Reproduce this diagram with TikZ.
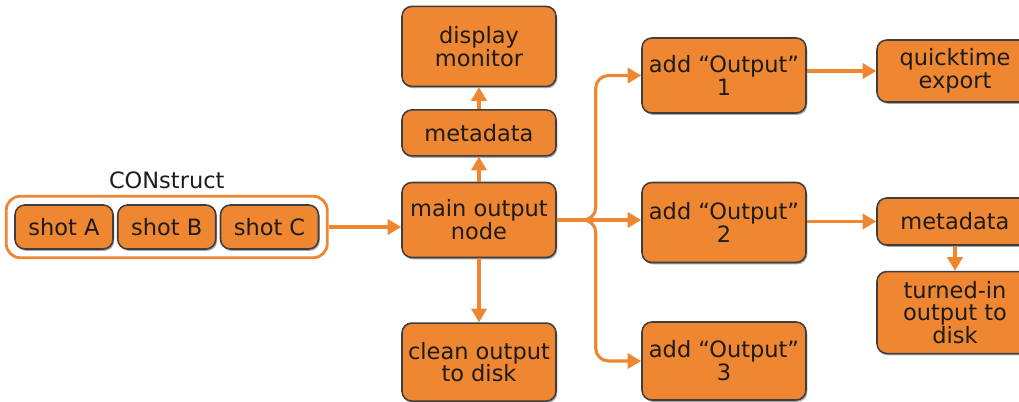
\documentclass[tikz,border=0pt]{standalone}
\usepackage{fontspec}
\setmainfont{DejaVu Sans}
\usetikzlibrary{arrows.meta,fit,positioning,shadows}
\definecolor{floworange}{HTML}{EE8632}
\definecolor{flowdark}{HTML}{3E3E3E}
\definecolor{flowtext}{HTML}{1C1C1C}
\tikzset{
  box/.style={rectangle,rounded corners=7pt,draw=flowdark,fill=floworange,line width=1.1pt,
    minimum width=#1,minimum height=1.95cm,align=center,text=flowtext,inner sep=1pt,
    font=\fontsize{16}{16.2}\selectfont,
    drop shadow={shadow xshift=0.9pt,shadow yshift=-1.3pt,fill=flowdark!45,opacity=1}},
  box/.default=3.85cm,
  shotbox/.style={box=2.45cm,minimum height=1.1cm},
  group/.style={rectangle,rounded corners=10pt,draw=floworange,line width=2pt,inner sep=0.2cm},
  grouplabel/.style={text=flowtext,font=\fontsize{16}{16.2}\selectfont,inner sep=1pt},
  arrow/.style={-{Triangle[length=3.4mm,width=3.8mm]},line width=2.2pt,draw=floworange}
}
\begin{document}
\begin{tikzpicture}
\useasboundingbox (0,0) rectangle (25.475,-10.05);
% construct group
\node[shotbox] (shotA) at (1.6,-5.675) {shot A};
\node[shotbox,right=0.08cm of shotA] (shotB) {shot B};
\node[shotbox,right=0.08cm of shotB] (shotC) {shot C};
\node[group,fit=(shotA)(shotB)(shotC)] (construct) {};
\node[grouplabel,above=0.12cm of construct] (constructlabel) {CONstruct};
% main column
\node[box,minimum height=1.875cm] (main) at (11.975,-5.5) {main output\\node};
\node[box,minimum height=1.15cm,above=0.625cm of main] (meta) {metadata};
\node[box,minimum height=2cm,above=0.55cm of meta] (monitor) {display\\monitor};
\node[box,below=1.6cm of main] (clean) {clean output\\to disk};
% outputs
\node[box=4.1cm,minimum height=1.875cm] (outA) at (18.1,-1.8875) {add ``Output''\\1};
\node[box=4.1cm,minimum height=2cm] (outB) at (18.1,-5.5625) {add ``Output''\\2};
\node[box=4.1cm] (outC) at (18.1,-9.025) {add ``Output''\\3};
% right column
\node[box=3.9cm,minimum height=1.55cm] (quick) at (23.875,-1.775) {quicktime\\export};
\node[box=3.9cm,minimum height=1.175cm] (burnmeta) at (23.875,-5.5375) {metadata};
\node[box=3.9cm,minimum height=2.05cm,below=0.625cm of burnmeta] (burned) {turned-in\\output to\\disk};
% connectors
\draw[arrow] (construct.east) -- (construct.east -| main.west);
\draw[arrow] (main) -- (meta);
\draw[arrow] (meta) -- (monitor);
\draw[arrow] (main) -- (clean);
\draw[arrow,rounded corners=9pt] (main.east) -- ++(0.975,0) |- (outA.west);
\draw[arrow] (main.east) -- (main.east -| outB.west);
\draw[arrow,rounded corners=9pt] (main.east) -- ++(0.975,0) |- (outC.west);
\draw[arrow] (outA.east |- quick.west) -- (quick.west);
\draw[arrow] (outB.east |- burnmeta.west) -- (burnmeta.west);
\draw[arrow] (burnmeta) -- (burned);
\end{tikzpicture}
\end{document}
